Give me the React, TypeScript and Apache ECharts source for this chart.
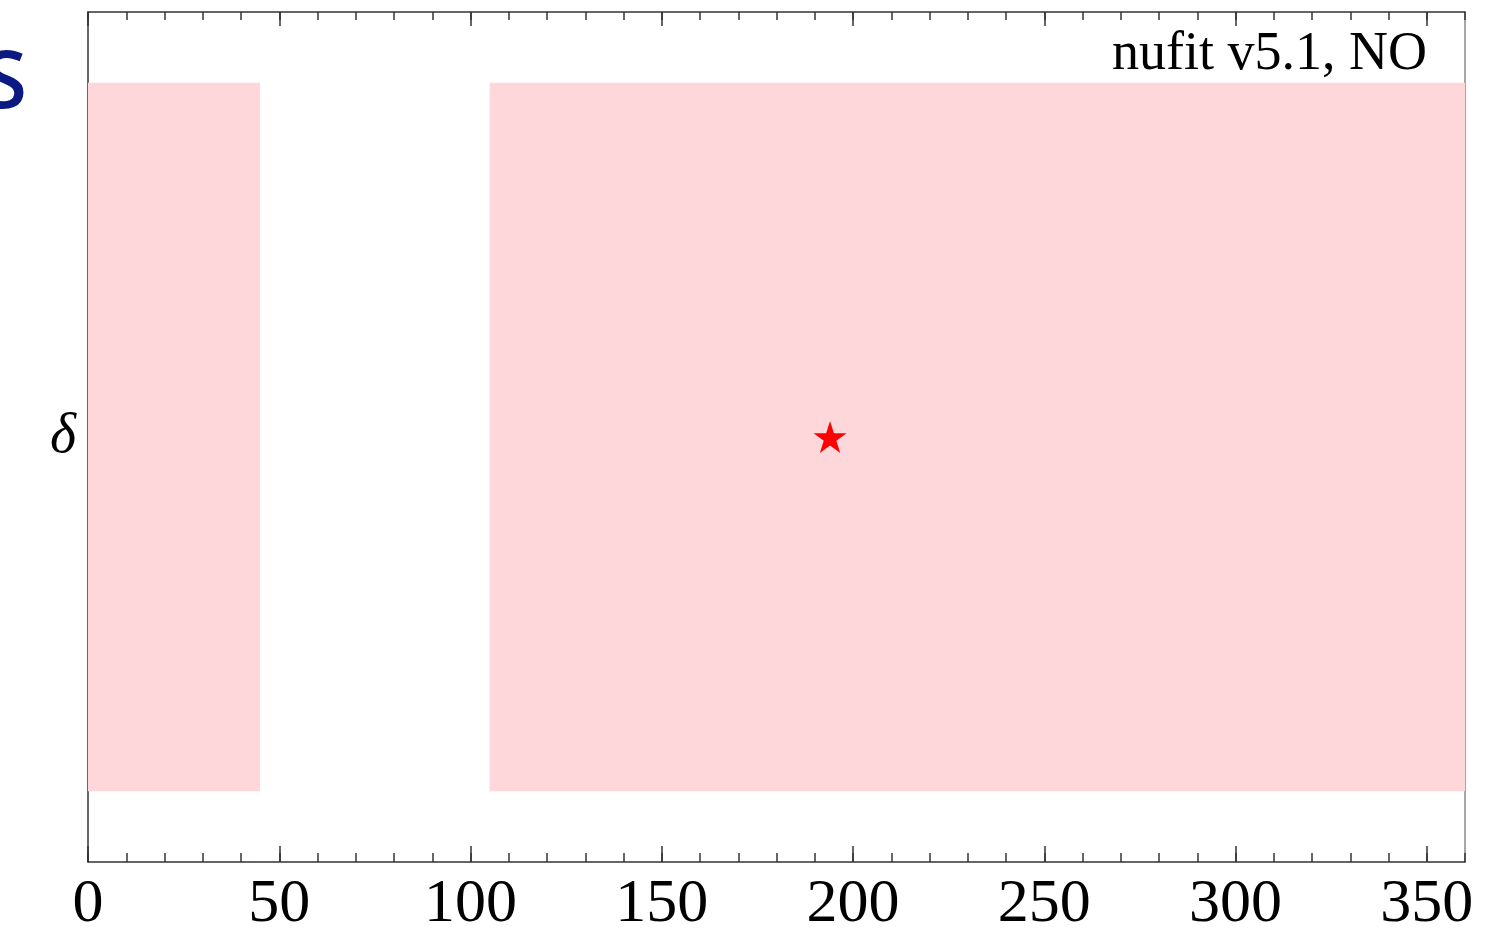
import React, { useEffect, useRef } from "react";
import * as echarts from "echarts";

const xTickLabels = [0, 50, 100, 150, 200, 250, 300, 350];
const xRange = [0, 360];
const yRange = [-0.6, 0.6];
const allowedBands = [
  [0, 45],
  [105, 360],
];
const bandY = [-0.5, 0.5];
const bestFit = [[194, 0]];
const annotation = "nufit v5.1, NO";
const yLabel = "δ";
const cornerLetter = "S";

const STAR =
  "path://M100 0 L122.45 69.1 L195.1 69.1 L136.3 111.8 L158.8 180.9 L100 138.2 L41.2 180.9 L63.7 111.8 L4.9 69.1 L77.55 69.1 Z";

export default function App() {
  const ref = useRef<HTMLDivElement>(null);
  useEffect(() => {
    if (!ref.current) return;
    const chart = echarts.init(ref.current, null, { renderer: "svg" });
    const axisColor = "#333";
    const baseX = {
      type: "value",
      min: xRange[0],
      max: xRange[1],
      splitLine: { show: false },
    };
    chart.setOption({
      animation: false,
      backgroundColor: "#fff",
      grid: { left: 88, top: 12, right: 31, bottom: 69, containLabel: false },
      xAxis: [
        {
          ...baseX,
          position: "bottom",
          interval: 50,
          axisLine: { show: true, onZero: false, lineStyle: { color: axisColor, width: 1.5 } },
          axisTick: {
            show: true,
            inside: true,
            length: 16,
            customValues: xTickLabels,
            lineStyle: { color: axisColor, width: 1.5 },
          },
          axisLabel: {
            show: true,
            customValues: xTickLabels,
            fontSize: 62,
            lineHeight: 56,
            fontFamily: "Liberation Serif",
            color: "#000",
            margin: 10,
          },
        },
        {
          ...baseX,
          position: "bottom",
          interval: 10,
          axisLine: { show: false, onZero: false },
          axisTick: {
            show: true,
            inside: true,
            length: 9,
            lineStyle: { color: axisColor, width: 1.5 },
          },
          axisLabel: { show: false },
        },
        {
          ...baseX,
          position: "top",
          interval: 50,
          axisLine: { show: true, onZero: false, lineStyle: { color: axisColor, width: 1.5 } },
          axisTick: {
            show: true,
            inside: true,
            length: 14,
            customValues: xTickLabels,
            lineStyle: { color: axisColor, width: 1.5 },
          },
          axisLabel: { show: false },
        },
        {
          ...baseX,
          position: "top",
          interval: 10,
          axisLine: { show: false, onZero: false },
          axisTick: {
            show: true,
            inside: true,
            length: 8,
            lineStyle: { color: axisColor, width: 1.5 },
          },
          axisLabel: { show: false },
        },
      ],
      yAxis: [
        {
          type: "value",
          min: yRange[0],
          max: yRange[1],
          position: "left",
          axisLine: { show: true, onZero: false, lineStyle: { color: axisColor, width: 1.5 } },
          axisTick: { show: false },
          axisLabel: { show: false },
          splitLine: { show: false },
        },
        {
          type: "value",
          min: yRange[0],
          max: yRange[1],
          position: "right",
          axisLine: { show: true, onZero: false, lineStyle: { color: "#888", width: 1.5 } },
          axisTick: { show: false },
          axisLabel: { show: false },
          splitLine: { show: false },
        },
      ],
      series: [
        {
          type: "scatter",
          xAxisIndex: 0,
          yAxisIndex: 0,
          data: [],
          silent: true,
          markArea: {
            silent: true,
            itemStyle: { color: "#fdd7d9", opacity: 1 },
            data: allowedBands.map((b) => [
              { xAxis: b[0], yAxis: bandY[0] },
              { xAxis: b[1], yAxis: bandY[1] },
            ]),
          },
          z: 2,
        },
        {
          type: "scatter",
          xAxisIndex: 0,
          yAxisIndex: 0,
          data: bestFit,
          symbol: STAR,
          symbolSize: [33, 32],
          itemStyle: { color: "#ff0000", opacity: 1 },
          z: 5,
        },
      ],
      graphic: [
        {
          type: "text",
          x: 1427,
          y: 51,
          style: {
            text: annotation,
            fontSize: 54,
            fontFamily: "Liberation Serif",
            fill: "#000",
            align: "right",
            verticalAlign: "middle",
          },
        },
        {
          type: "text",
          x: 63,
          y: 433,
          style: {
            text: yLabel,
            fontSize: 56,
            fontStyle: "italic",
            fontFamily: "Liberation Serif",
            fill: "#000",
            align: "center",
            verticalAlign: "middle",
          },
        },
        {
          type: "text",
          x: 27,
          y: 76,
          style: {
            text: cornerLetter,
            fontSize: 80,
            fontWeight: 600,
            fontFamily: "Open Sans",
            fill: "#0a1a82",
            align: "right",
            verticalAlign: "middle",
          },
        },
      ],
    });
    return () => chart.dispose();
  }, []);
  return <div ref={ref} style={{ width: 1496, height: 931, position: "fixed", left: 0, top: 0 }} />;
}
